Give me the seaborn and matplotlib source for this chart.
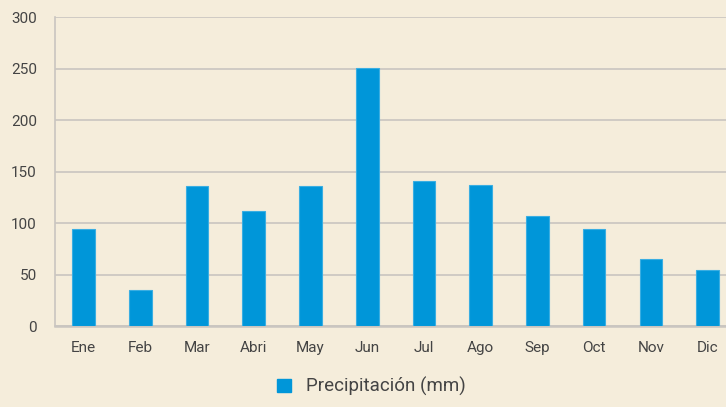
import matplotlib
matplotlib.use("Agg")
import matplotlib.pyplot as plt
import seaborn as sns
import pandas as pd
from matplotlib.patches import Patch

meses = ["Ene", "Feb", "Mar", "Abri", "May", "Jun", "Jul", "Ago", "Sep", "Oct", "Nov", "Dic"]
precipitacion = [94, 35, 136, 112, 136, 251, 141, 137, 107, 94, 65, 54]
yticks = [0, 50, 100, 150, 200, 250, 300]
serie = "Precipitación (mm)"

bg = "#f5eddb"
bar_color = "#0096d9"
grid_color = "#c9c5c0"
text_color = "#444444"

sns.set_theme(style="white")
plt.rcParams["font.family"] = ["Roboto", "DejaVu Sans"]

df = pd.DataFrame({"mes": meses, "mm": precipitacion})

fig = plt.figure(figsize=(7.26, 4.07), dpi=100, facecolor=bg)
ax = fig.add_axes([0.0758, 0.199, 0.938, 0.759])
ax.set_facecolor(bg)

sns.barplot(data=df, x="mes", y="mm", color=bar_color, width=0.4,
            edgecolor="#3aaee2", linewidth=0.8, saturation=1, ax=ax, zorder=3)

ax.set_ylim(0, 300)
ax.set_yticks(yticks)
ax.set_xlim(-0.5, len(meses) - 0.5)
ax.yaxis.grid(True, color=grid_color, linewidth=1.2, zorder=0)
ax.set_axisbelow(True)
ax.set_xlabel("")
ax.set_ylabel("")

for s in ["top", "right"]:
    ax.spines[s].set_visible(False)
ax.spines["left"].set_color(grid_color)
ax.spines["bottom"].set_color(grid_color)
ax.spines["left"].set_linewidth(1.2)
ax.spines["bottom"].set_linewidth(1.8)

# x ticks sit at category boundaries, labels at category centres
ax.set_xticks([i - 0.5 for i in range(len(meses))], minor=False)
ax.set_xticklabels([])
ax.set_xticks(range(len(meses)), minor=True)
ax.set_xticklabels(meses, minor=True)
ax.tick_params(axis="x", which="major", length=5, width=1.2, color=grid_color, direction="out")
ax.tick_params(axis="x", which="minor", length=0, pad=11, labelsize=11, labelcolor=text_color)
ax.tick_params(axis="y", length=5, width=1.2, color=grid_color, pad=8, labelsize=11, labelcolor=text_color)

handles = [Patch(facecolor=bar_color, edgecolor=bar_color, label=serie)]
fig.legend(handles=handles, loc="center", bbox_to_anchor=(0.512, 0.05), frameon=False,
           fontsize=13.5, handlelength=0.75, handleheight=0.75, handletextpad=0.8,
           labelcolor=text_color)

fig.savefig("out.png", dpi=100, facecolor=bg)
